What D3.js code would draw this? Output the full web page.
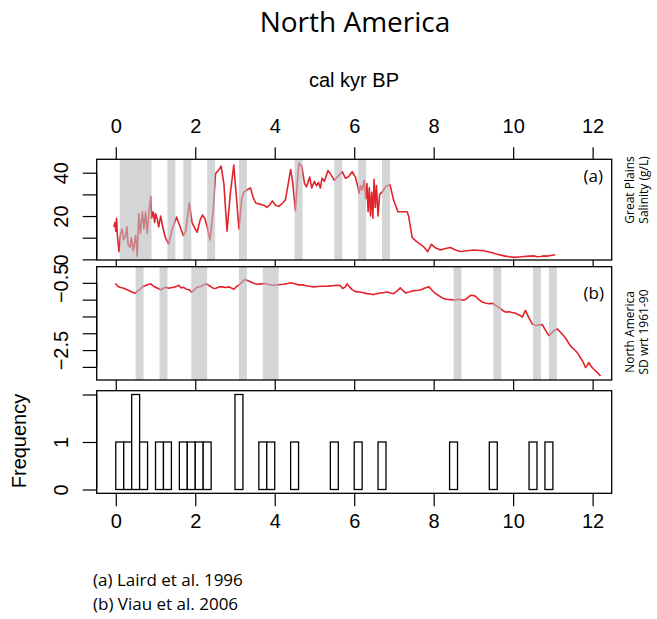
<!DOCTYPE html>
<html>
<head>
<meta charset="utf-8">
<script src="https://cdn.jsdelivr.net/npm/d3@7"></script>
<style>
  html, body { margin: 0; padding: 0; background: #fff; }
  svg { display: block; }
  .axis text { font-family: "Liberation Sans", Arial, sans-serif; font-size: 20px; fill: #000; }
  .axis path, .axis line { stroke: #000; stroke-width: 1.2; }
</style>
</head>
<body>
<svg id="chart" width="657" height="619"></svg>
<script>
// Age (cal kyr BP) and Great Plains lake salinity (g/L)
const salinityAge = [-0.05,-0.02,0.0,0.02,0.04,0.08,0.12,0.16,0.2,0.25,0.28,0.31,0.36,0.39,0.44,0.5,0.54,0.58,0.62,0.67,0.71,0.75,0.79,0.84,0.88,0.9,0.94,0.98,1.0,1.04,1.08,1.13,1.17,1.25,1.33,1.42,1.53,1.6,1.7,1.76,1.85,1.92,2.0,2.05,2.12,2.18,2.24,2.3,2.37,2.45,2.51,2.58,2.65,2.72,2.8,2.88,2.97,3.03,3.1,3.17,3.22,3.3,3.39,3.45,3.52,3.62,3.73,3.8,3.87,3.94,4.02,4.1,4.2,4.27,4.35,4.4,4.45,4.52,4.57,4.61,4.68,4.75,4.8,4.88,4.93,5.0,5.05,5.1,5.15,5.19,5.25,5.34,5.42,5.5,5.6,5.7,5.78,5.85,5.95,6.03,6.1,6.12,6.16,6.2,6.25,6.29,6.32,6.35,6.38,6.41,6.44,6.47,6.5,6.53,6.56,6.6,6.64,6.7,6.79,6.9,6.99,7.1,7.21,7.33,7.37,7.46,7.55,7.63,7.75,7.85,7.94,8.04,8.17,8.3,8.42,8.55,8.67,8.85,9.01,9.26,9.45,9.6,9.8,10.02,10.15,10.27,10.4,10.52,10.6,10.69,10.78,10.85,10.95,11.06];
const salinity = [15,17,13,19,11,3.5,12,14,9,11,15,7,5.5,10,4,11,1.5,21,12,22,14,22,12,23,29,19,22,17,21,19,15,20,16,10,7,14,19.5,16,11,13,26,17,14,12.5,18,20.5,19,15,9,22,39.5,41,43,35,13,30,43.5,30,14,28,31,32,33,29,26,25.5,25,24,25,27,25,24.5,26,27.5,36,41.5,36,22.5,36,44.5,43,35,33.5,38,33,36,34,35.5,33,37.5,36,41,39,36.5,38.5,40.5,37.5,38,40.5,38,33,30.5,34,32,36.5,28,35,22,33,20,31,19,37,24,34,20,30,31,33.5,34.5,27.5,22,22,22,20,10,8.5,7.4,5.8,3.5,6.9,5.4,4.3,5,5.5,4.3,3.6,4,4.3,4.0,3.2,2.4,1.5,0.9,1.1,1.3,1.5,1.6,1.2,1.3,1.6,1.5,1.8,2.1];

// Age (cal kyr BP) and North America temperature anomaly (SD wrt 1961-90)
const anomalyAge = [-0.01,0.05,0.1,0.2,0.27,0.33,0.42,0.5,0.56,0.62,0.7,0.75,0.82,0.88,0.95,1.0,1.07,1.13,1.2,1.25,1.33,1.42,1.5,1.59,1.64,1.7,1.77,1.84,1.91,1.98,2.05,2.15,2.26,2.32,2.39,2.45,2.51,2.6,2.68,2.77,2.85,2.97,3.04,3.1,3.18,3.25,3.33,3.39,3.47,3.56,3.66,3.77,3.85,3.94,4.05,4.15,4.23,4.32,4.4,4.5,4.6,4.7,4.77,4.87,4.98,5.08,5.2,5.3,5.4,5.5,5.57,5.65,5.71,5.78,5.82,5.88,5.95,6.03,6.12,6.2,6.33,6.41,6.49,6.58,6.66,6.75,6.83,6.9,6.99,7.08,7.16,7.22,7.29,7.38,7.46,7.55,7.63,7.7,7.75,7.82,7.88,7.96,8.05,8.15,8.25,8.33,8.42,8.5,8.59,8.68,8.76,8.85,8.93,9.0,9.05,9.14,9.22,9.3,9.39,9.45,9.51,9.6,9.68,9.75,9.81,9.9,9.97,10.04,10.1,10.17,10.23,10.31,10.4,10.48,10.55,10.6,10.67,10.73,10.82,10.9,10.98,11.05,11.11,11.19,11.27,11.35,11.44,11.5,11.57,11.64,11.69,11.76,11.82,11.87,11.9,11.96,12.03,12.12,12.2];
const anomaly = [-0.52,-0.6,-0.63,-0.66,-0.7,-0.73,-0.78,-0.81,-0.73,-0.68,-0.6,-0.58,-0.55,-0.53,-0.6,-0.63,-0.67,-0.71,-0.66,-0.63,-0.66,-0.64,-0.62,-0.57,-0.65,-0.63,-0.69,-0.7,-0.78,-0.7,-0.63,-0.6,-0.53,-0.56,-0.61,-0.66,-0.67,-0.62,-0.62,-0.64,-0.62,-0.69,-0.61,-0.56,-0.47,-0.4,-0.44,-0.47,-0.51,-0.54,-0.53,-0.52,-0.55,-0.57,-0.56,-0.55,-0.54,-0.52,-0.5,-0.53,-0.56,-0.56,-0.58,-0.6,-0.62,-0.61,-0.6,-0.6,-0.59,-0.58,-0.57,-0.58,-0.67,-0.62,-0.53,-0.62,-0.7,-0.76,-0.77,-0.79,-0.82,-0.83,-0.85,-0.82,-0.8,-0.79,-0.77,-0.8,-0.82,-0.74,-0.65,-0.72,-0.8,-0.77,-0.74,-0.73,-0.72,-0.7,-0.67,-0.64,-0.62,-0.72,-0.82,-0.9,-0.97,-0.99,-1.0,-1.01,-1.0,-1.0,-1.02,-0.95,-0.87,-0.88,-0.9,-1.0,-1.07,-1.1,-1.12,-1.11,-1.13,-1.2,-1.27,-1.33,-1.37,-1.36,-1.38,-1.4,-1.43,-1.47,-1.52,-1.32,-1.55,-1.72,-1.76,-1.77,-1.75,-1.74,-1.92,-2.07,-1.98,-1.9,-1.87,-1.97,-2.07,-2.2,-2.37,-2.45,-2.52,-2.62,-2.72,-2.85,-3.02,-2.95,-2.87,-2.98,-3.07,-3.17,-3.27];

// Dry-event intervals (start, end in cal kyr BP) shaded in each record
const eventsA = [[0.1,0.9],[1.3,1.5],[1.7,1.9],[2.3,2.5],[3.1,3.3],[4.5,4.7],[5.5,5.7],[6.1,6.3],[6.7,6.9]];
const eventsB = [[0.5,0.7],[1.1,1.3],[1.9,2.3],[3.1,3.3],[3.7,4.1],[8.5,8.7],[9.5,9.7],[10.5,10.7],[10.9,11.1]];

// Frequency of events per 0.2 kyr bin, bins starting at 0
const binWidth = 0.2;
const binCounts = [1,1,2,1,0,1,1,0,1,1,1,1,0,0,0,2,0,0,1,1,0,0,1,0,0,0,0,1,0,0,1,0,0,1,0,0,0,0,0,0,0,0,1,0,0,0,0,1,0,0,0,0,1,0,1];

// Tick values and labels
const ageTicks = [0,2,4,6,8,10,12];
const salTicks = [0,10,20,30,40];
const salLabels = [0,20,40];
const anomTicks = [-0.5,-1,-1.5,-2,-2.5,-3];
const anomLabels = [-0.5,-2.5];
const freqTicks = [0,1,2];
const freqLabels = [0,1];

const svg = d3.select("#chart");
const red = "#e3232b";
const bandFill = "#b8bbbe";

const x = d3.scaleLinear().domain([-0.48, 12.48]).range([96.7, 611.7]);
const yA = d3.scaleLinear().domain([-0.3, 46.2]).range([260, 159.3]);
const yB = d3.scaleLinear().domain([-3.39, -0.02]).range([380, 266.7]);
const yC = d3.scaleLinear().domain([-0.08, 2.08]).range([493.3, 390.7]);

const fmt = v => (v < 0 ? "\u2212" + Math.abs(v) : String(v));

function leftAxis(y, ticks, labels) {
  const g = svg.append("g").attr("class", "axis").attr("transform", `translate(${x.range()[0]},0)`);
  g.call(d3.axisLeft(y).tickValues(ticks).tickSize(14).tickSizeOuter(0)
    .tickFormat(v => labels.includes(v) ? fmt(v) : ""));
  const ext = d3.extent(ticks);
  g.select(".domain").attr("d", `M0,${y(ext[1])}V${y(ext[0])}`);
  g.selectAll(".tick text")
    .attr("x", 0).attr("dy", 0)
    .attr("text-anchor", "middle")
    .attr("transform", "translate(-29,0) rotate(-90)");
  return g;
}

function frame(y) {
  const [y0, y1] = y.range();
  svg.append("rect")
    .attr("x", x.range()[0]).attr("y", y1)
    .attr("width", x.range()[1] - x.range()[0]).attr("height", y0 - y1)
    .attr("fill", "none").attr("stroke", "#000").attr("stroke-width", 1.3);
}

function bands(events, y) {
  const [y0, y1] = y.range();
  svg.append("g").selectAll("rect").data(events).join("rect")
    .attr("x", d => x(d[0])).attr("y", y1)
    .attr("width", d => x(d[1]) - x(d[0])).attr("height", y0 - y1)
    .attr("fill", bandFill).attr("fill-opacity", 0.62);
}

function series(ages, vals, y) {
  const line = d3.line().x(d => x(d[0])).y(d => y(d[1]));
  svg.append("path")
    .datum(d3.zip(ages, vals))
    .attr("d", line)
    .attr("fill", "none").attr("stroke", red).attr("stroke-width", 1.6)
    .attr("stroke-linejoin", "round");
}

// Panel (a): salinity
series(salinityAge, salinity, yA);
bands(eventsA, yA);
frame(yA);
leftAxis(yA, salTicks, salLabels);
const topAx = svg.append("g").attr("class", "axis").attr("transform", `translate(0,${yA.range()[1]})`)
  .call(d3.axisTop(x).tickValues(ageTicks).tickSize(12).tickPadding(14));
topAx.select(".domain").remove();
svg.append("g").attr("class", "axis").attr("transform", `translate(0,${yA.range()[0]})`)
  .call(d3.axisBottom(x).tickValues(ageTicks).tickSize(yB.range()[1] - yA.range()[0]).tickFormat(""))
  .select(".domain").remove();

// Panel (b): temperature anomaly
series(anomalyAge, anomaly, yB);
bands(eventsB, yB);
frame(yB);
leftAxis(yB, anomTicks, anomLabels);
svg.append("g").attr("class", "axis").attr("transform", `translate(0,${yB.range()[0]})`)
  .call(d3.axisBottom(x).tickValues(ageTicks).tickSize(yC.range()[1] - yB.range()[0]).tickFormat(""))
  .select(".domain").remove();

// Panel (c): event frequency histogram
const bins = binCounts.map((c, i) => ({ x0: i * binWidth, x1: (i + 1) * binWidth, n: c }));
svg.append("g").selectAll("rect").data(bins).join("rect")
  .attr("x", d => x(d.x0)).attr("y", d => yC(d.n))
  .attr("width", d => x(d.x1) - x(d.x0)).attr("height", d => yC(0) - yC(d.n))
  .attr("fill", "#fff").attr("stroke", "#000").attr("stroke-width", 1.3);
frame(yC);
leftAxis(yC, freqTicks, freqLabels);
const botAx = svg.append("g").attr("class", "axis").attr("transform", `translate(0,${yC.range()[0]})`)
  .call(d3.axisBottom(x).tickValues(ageTicks).tickSize(13).tickPadding(8));
botAx.select(".domain").remove();

// Panel tags
const tagFont = "'Open Sans', 'Noto Sans', sans-serif";
svg.append("text").attr("x", 603).attr("y", 182).attr("text-anchor", "end")
  .attr("font-family", tagFont).attr("font-size", 17).text("(a)");
svg.append("text").attr("x", 604).attr("y", 299).attr("text-anchor", "end")
  .attr("font-family", tagFont).attr("font-size", 17).text("(b)");

// Right-hand axis titles
function sideTitle(lines, cx, cy) {
  lines.forEach((t, i) => {
    svg.append("text")
      .attr("transform", `translate(${cx + i * 14},${cy}) rotate(-90)`)
      .attr("text-anchor", "middle")
      .attr("font-family", tagFont).attr("font-size", 12).text(t);
  });
}
sideTitle(["Great Plains", "Salinity (g/L)"], 634, 190);
sideTitle(["North America", "SD wrt 1961-90"], 634, 332);

// Left axis title for histogram
svg.append("text")
  .attr("transform", `translate(26,${(yC.range()[0] + yC.range()[1]) / 2 - 1}) rotate(-90)`)
  .attr("text-anchor", "middle")
  .attr("font-family", "'Liberation Sans', Arial, sans-serif").attr("font-size", 20)
  .text("Frequency");

// Titles
svg.append("text").attr("x", 355).attr("y", 32).attr("text-anchor", "middle")
  .attr("font-family", tagFont).attr("font-size", 28).text("North America");
svg.append("text").attr("x", 354).attr("y", 87).attr("text-anchor", "middle")
  .attr("font-family", "'Liberation Sans', Arial, sans-serif").attr("font-size", 20).text("cal kyr BP");

// Sources
svg.append("text").attr("x", 93).attr("y", 586)
  .attr("font-family", tagFont).attr("font-size", 17).text("(a) Laird et al. 1996");
svg.append("text").attr("x", 93).attr("y", 610)
  .attr("font-family", tagFont).attr("font-size", 17).text("(b) Viau et al. 2006");
</script>
</body>
</html>
